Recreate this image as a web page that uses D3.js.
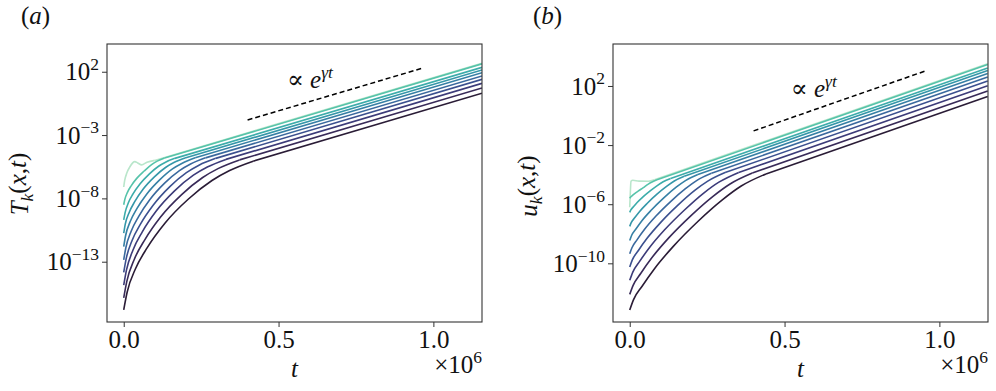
<!DOCTYPE html>
<html>
<head>
<meta charset="utf-8">
<script src="https://cdn.jsdelivr.net/npm/d3@7"></script>
<style>
  body { margin: 0; background: #fff; }
  svg text { font-family: "Liberation Serif", "DejaVu Serif", "Times New Roman", serif !important; fill: #111; }
</style>
</head>
<body>
<script>
// time in units of 1e6, values stored as log10
const xTicks = [0, 0.5, 1.0]

// panel (a): T_k(x,t)
const tA = [
  [0, 0.011, 0.038, 0.076, 0.133, 0.209, 0.285, 0.342, 0.418, 1.157],
  [0, 0.010, 0.034, 0.068, 0.119, 0.187, 0.255, 0.306, 0.374, 1.157],
  [0, 0.009, 0.030, 0.060, 0.105, 0.165, 0.225, 0.270, 0.330, 1.157],
  [0, 0.008, 0.027, 0.054, 0.095, 0.149, 0.2025, 0.243, 0.297, 1.157],
  [0, 0.007, 0.024, 0.048, 0.084, 0.132, 0.180, 0.216, 0.264, 1.157],
  [0, 0.006, 0.021, 0.042, 0.074, 0.116, 0.1575, 0.189, 0.231, 1.157],
  [0, 0.005, 0.018, 0.036, 0.063, 0.099, 0.135, 0.162, 0.198, 1.157],
  [0, 0.0045, 0.015, 0.030, 0.053, 0.083, 0.1125, 0.135, 0.165, 1.157],
  [0, 0.0036, 0.012, 0.024, 0.042, 0.066, 0.090, 0.108, 0.132, 1.157],
  [0, 0.003, 0.010, 0.020, 0.036, 0.045, 0.058, 0.075, 0.10, 1.157]
]
const logA = [
  [-16.80, -15.41, -13.56, -11.89, -9.96, -8.05, -6.59, -5.80, -5.06, 0.30],
  [-15.85, -14.55, -12.82, -11.27, -9.47, -7.70, -6.35, -5.63, -4.96, 0.72],
  [-14.85, -13.65, -12.07, -10.64, -9.00, -7.39, -6.17, -5.52, -4.92, 1.08],
  [-13.85, -12.76, -11.32, -10.03, -8.54, -7.07, -5.97, -5.38, -4.84, 1.40],
  [-12.85, -11.88, -10.59, -9.44, -8.11, -6.80, -5.81, -5.29, -4.80, 1.67],
  [-11.80, -10.95, -9.83, -8.83, -7.67, -6.54, -5.67, -5.22, -4.79, 1.92],
  [-10.75, -10.03, -9.09, -8.24, -7.26, -6.30, -5.56, -5.17, -4.81, 2.14],
  [-9.70, -9.12, -8.35, -7.65, -6.85, -6.06, -5.46, -5.14, -4.84, 2.35],
  [-8.50, -8.08, -7.52, -7.01, -6.42, -5.84, -5.33, -5.06, -4.81, 2.62],
  [-7.10, -6.60, -6.00, -5.50, -5.10, -5.20, -5.35, -5.15, -5.00, 2.66]
]
const yTicksA = [2, -3, -8, -13]
const guideTA = [0.40, 0.963]
const guideLogA = [-1.81, 2.27]

// panel (b): u_k(x,t)
const tB = [
  [0, 0.012, 0.040, 0.080, 0.140, 0.220, 0.300, 0.360, 0.440, 1.156],
  [0, 0.011, 0.036, 0.072, 0.126, 0.198, 0.270, 0.324, 0.396, 1.156],
  [0, 0.0096, 0.032, 0.064, 0.112, 0.176, 0.240, 0.288, 0.352, 1.156],
  [0, 0.0084, 0.028, 0.056, 0.098, 0.154, 0.210, 0.252, 0.308, 1.156],
  [0, 0.0072, 0.024, 0.048, 0.084, 0.132, 0.180, 0.216, 0.264, 1.156],
  [0, 0.006, 0.020, 0.040, 0.070, 0.110, 0.150, 0.180, 0.220, 1.156],
  [0, 0.0048, 0.016, 0.032, 0.056, 0.088, 0.120, 0.144, 0.176, 1.156],
  [0, 0.0036, 0.012, 0.024, 0.042, 0.066, 0.090, 0.108, 0.132, 1.156],
  [0, 0.0024, 0.008, 0.016, 0.028, 0.044, 0.060, 0.072, 0.088, 1.156],
  [0, 0.002, 0.004, 0.010, 0.030, 0.060, 0.08, 1.156]
]
const logB = [
  [-13.16, -12.47, -11.55, -10.36, -8.87, -7.17, -5.69, -4.77, -3.95, 1.28],
  [-12.10, -11.49, -10.67, -9.61, -8.28, -6.77, -5.45, -4.63, -3.89, 1.66],
  [-11.15, -10.61, -9.87, -8.93, -7.75, -6.41, -5.23, -4.51, -3.85, 2.02],
  [-10.25, -9.77, -9.13, -8.31, -7.28, -6.10, -5.07, -4.44, -3.86, 2.33],
  [-9.35, -8.95, -8.40, -7.70, -6.82, -5.82, -4.95, -4.40, -3.91, 2.60],
  [-8.45, -8.12, -7.68, -7.10, -6.39, -5.57, -4.85, -4.40, -3.99, 2.84],
  [-7.50, -7.25, -6.92, -6.49, -5.95, -5.32, -4.78, -4.43, -4.11, 3.04],
  [-6.55, -6.39, -6.17, -5.88, -5.52, -5.10, -4.72, -4.48, -4.26, 3.22],
  [-5.60, -5.53, -5.42, -5.28, -5.10, -4.88, -4.64, -4.50, -4.35, 3.45],
  [-6.20, -5.20, -4.45, -4.38, -4.44, -4.45, -4.35, 3.50]
]
const yTicksB = [2, -2, -6, -10]
const guideTB = [0.40, 0.954]
const guideLogB = [-1.04, 3.01]

// dark -> light (mako-like)
const lineColors = ['#2a1c36', '#382a58', '#3c3b79', '#3b508f', '#3a699e', '#3680a5',
                    '#3597a9', '#3cacaa', '#56c3aa', '#b9e6cb']
// the palest curve goes underneath the others
const drawOrder = [9, 0, 1, 2, 3, 4, 5, 6, 7, 8]

const serif = '"Liberation Serif", "DejaVu Serif", "Times New Roman", serif'
const fs = 25      // main text size
const fsSup = 17.5 // super/subscript size

let svg = d3.select('body').append('svg')
    .attr('width', 996)
    .attr('height', 391)
    .attr('font-family', serif)

function drawPanel(p) {
    let g = svg.append('g')

    let x = d3.scaleLinear()
        .domain([-0.054, 1.157])
        .range([p.left, p.right])
    let y = d3.scaleLog()
        .domain([Math.pow(10, p.yMin), Math.pow(10, p.yMax)])
        .range([p.bottom, p.top])

    g.append('clipPath').attr('id', 'clip' + p.id)
      .append('rect')
        .attr('x', p.left).attr('y', p.top)
        .attr('width', p.right - p.left).attr('height', p.bottom - p.top)

    let curved = d3.line()
        .x(d => x(d[0]))
        .y(d => y(Math.pow(10, d[1])))
        .curve(d3.curveMonotoneX)
    let straight = d3.line()
        .x(d => x(d[0]))
        .y(d => y(Math.pow(10, d[1])))

    let lines = g.append('g').attr('clip-path', 'url(#clip' + p.id + ')')
    drawOrder.forEach(k => {
        let pts = p.t[k].map((tt, i) => [tt, p.logv[k][i]])
        let n = pts.length
        // transient part is curved, the exponential part is a straight line on log axis
        lines.append('path')
            .attr('d', curved(pts.slice(0, n - 1)))
            .attr('fill', 'none')
            .attr('stroke', lineColors[k])
            .attr('stroke-width', 1.6)
        lines.append('path')
            .attr('d', straight(pts.slice(n - 2)))
            .attr('fill', 'none')
            .attr('stroke', lineColors[k])
            .attr('stroke-width', 1.6)
    })

    // guide line  ~ e^{gamma t}
    g.append('path')
        .attr('d', straight(p.guideT.map((tt, i) => [tt, p.guideLog[i]])))
        .attr('fill', 'none')
        .attr('stroke', '#000')
        .attr('stroke-width', 1.5)
        .attr('stroke-dasharray', '5,3')

    let ann = g.append('text')
        .attr('x', x(p.annT)).attr('y', y(Math.pow(10, p.annLog)))
        .style('font-size', fs + 'px')
    ann.append('tspan').text('\u221d ')
    ann.append('tspan').style('font-style', 'italic').text('e')
    ann.append('tspan').style('font-style', 'italic').style('font-size', fsSup + 'px')
        .attr('dy', '-0.55em').text('\u03b3t')

    // frame
    g.append('rect')
        .attr('x', p.left).attr('y', p.top)
        .attr('width', p.right - p.left).attr('height', p.bottom - p.top)
        .attr('fill', 'none')
        .attr('stroke', '#333')
        .attr('stroke-width', 1.1)

    // x axis
    let xAxis = d3.axisBottom(x)
        .tickValues(xTicks)
        .tickFormat(d3.format('.1f'))
        .tickSize(5)
        .tickPadding(3)
    let gx = g.append('g')
        .attr('transform', 'translate(0,' + p.bottom + ')')
        .call(xAxis)
        .attr('font-family', serif)
    gx.select('.domain').remove()
    gx.selectAll('line').attr('stroke', '#333')
    gx.selectAll('text')
        .style('font-size', fs + 'px')
        .attr('fill', '#111')

    // y axis, labels as 10^n
    let yAxis = d3.axisLeft(y)
        .tickValues(p.yTicks.map(e => Math.pow(10, e)))
        .tickFormat('')
        .tickSize(5)
    let gy = g.append('g')
        .attr('transform', 'translate(' + p.left + ',0)')
        .call(yAxis)
        .attr('font-family', serif)
    gy.select('.domain').remove()
    gy.selectAll('line').attr('stroke', '#333')
    gy.selectAll('.tick text').remove()
    gy.selectAll('.tick').each(function(d) {
        let e = Math.round(Math.log10(d))
        let tx = d3.select(this).append('text')
            .attr('x', -8)
            .attr('dy', '0.33em')
            .attr('text-anchor', 'end')
            .style('font-size', fs + 'px')
        tx.append('tspan').text('10')
        tx.append('tspan')
            .attr('dy', '-0.6em')
            .style('font-size', fsSup + 'px')
            .text(String(e).replace('-', '\u2212'))
    })

    // x label
    g.append('text')
        .attr('x', (p.left + p.right) / 2)
        .attr('y', 377)
        .attr('text-anchor', 'middle')
        .style('font-size', fs + 'px')
        .style('font-style', 'italic')
        .text('t')

    // offset text  x10^6
    let off = g.append('text')
        .attr('x', p.right)
        .attr('y', 373)
        .attr('text-anchor', 'end')
        .style('font-size', fs + 'px')
    off.append('tspan').text('\u00d710')
    off.append('tspan').attr('dy', '-0.6em').style('font-size', fsSup + 'px').text('6')

    // y label
    let yl = g.append('text')
        .attr('transform', 'translate(' + p.ylabX + ',' + p.ylabY + ') rotate(-90)')
        .attr('text-anchor', 'middle')
        .style('font-size', fs + 'px')
    yl.append('tspan').style('font-style', 'italic').text(p.ySym)
    yl.append('tspan').style('font-style', 'italic').style('font-size', fsSup + 'px')
        .attr('dy', '0.3em').text('k')
    yl.append('tspan').attr('dy', '-0.3em').text('(')
    yl.append('tspan').style('font-style', 'italic').text('x')
    yl.append('tspan').text(',')
    yl.append('tspan').style('font-style', 'italic').text('t')
    yl.append('tspan').text(')')

    // panel letter
    let pl = g.append('text')
        .attr('x', p.letterX).attr('y', 24)
        .style('font-size', fs + 'px')
    pl.append('tspan').text('(')
    pl.append('tspan').style('font-style', 'italic').text(p.letter)
    pl.append('tspan').text(')')
}

drawPanel({
    id: 'a', left: 107, right: 482, top: 44, bottom: 322,
    yMin: -17.76, yMax: 4.19,
    t: tA, logv: logA, yTicks: yTicksA,
    guideT: guideTA, guideLog: guideLogA,
    annT: 0.527, annLog: 0.71,
    ylabX: 28, ylabY: 184, ySym: 'T',
    letter: 'a', letterX: 21
})

drawPanel({
    id: 'b', left: 613, right: 988, top: 44, bottom: 322,
    yMin: -13.97, yMax: 4.84,
    t: tB, logv: logB, yTicks: yTicksB,
    guideT: guideTB, guideLog: guideLogB,
    annT: 0.52, annLog: 1.28,
    ylabX: 537, ylabY: 186, ySym: 'u',
    letter: 'b', letterX: 533
})
</script>
</body>
</html>
